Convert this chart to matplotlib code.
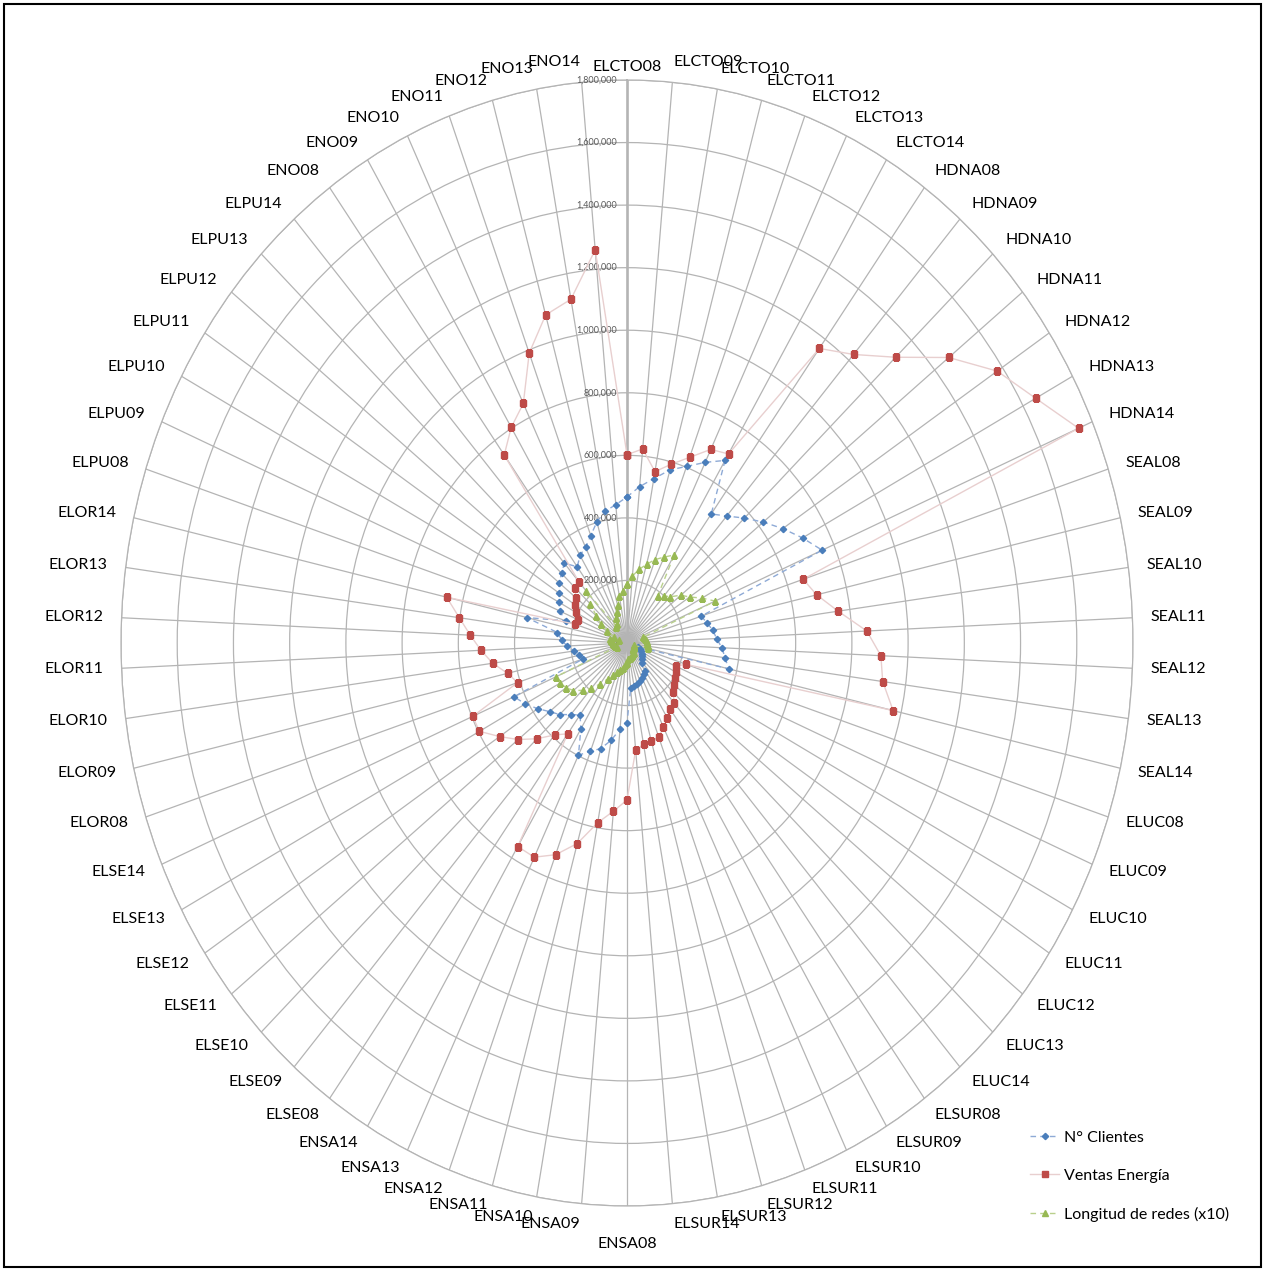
import numpy as np
import matplotlib.pyplot as plt
from matplotlib.patches import Rectangle

plt.rcParams['font.family'] = ['Lato', 'DejaVu Sans']

# Empresas y años (orden horario desde arriba)
empresas = ['ELCTO', 'HDNA', 'SEAL', 'ELUC', 'ELSUR', 'ENSA', 'ELSE', 'ELOR', 'ELPU', 'ENO']
anios = ['08', '09', '10', '11', '12', '13', '14']
categorias = [e + a for e in empresas for a in anios]

# N° de clientes
clientes = [
    467000, 502000, 534000, 574000, 603000, 641000, 680000,   # ELCTO
    510000, 539000, 578000, 620000, 664000, 709000, 755000,   # HDNA
    278000, 291000, 308000, 319000, 338000, 352000, 371000,   # SEAL
    42000, 49000, 56000, 63000, 69000, 76000, 83000,          # ELUC
    111000, 117000, 123000, 129000, 135000, 140000, 146000,   # ELSUR
    255000, 277000, 316000, 350000, 370000, 398000, 320000,   # ENSA
    284000, 304000, 331000, 352000, 381000, 411000, 437000,   # ELSE
    163000, 174000, 189000, 214000, 233000, 250000, 366000,   # ELOR
    230000, 260000, 275000, 290000, 309000, 322000, 339000,   # ELPU
    301000, 326000, 340000, 367000, 402000, 429000, 444000,   # ENO
]

# Ventas de energía
ventas = [
    602000, 623000, 557000, 593000, 634000, 687000, 704000,
    1164000, 1225000, 1322000, 1464000, 1578000, 1651000, 1747000,
    659000, 692000, 758000, 854000, 904000, 918000, 971000,
    220000, 189000, 197000, 205000, 214000, 228000, 255000,
    259000, 279000, 299000, 320000, 326000, 329000, 344000,
    502000, 540000, 584000, 665000, 723000, 760000, 758000,
    359000, 390000, 443000, 495000, 543000, 596000, 597000,
    409000, 436000, 482000, 520000, 558000, 602000, 658000,
    194000, 191000, 208000, 220000, 233000, 254000, 260000,
    743000, 803000, 850000, 990000, 1088000, 1117000, 1262000,
]

# Longitud de redes (x10)
redes = [
    189000, 215000, 239000, 261000, 285000, 305000, 328000,
    185000, 200000, 214000, 245000, 267000, 303000, 341000,
    61000, 64000, 67000, 70000, 72000, 75000, 78000,
    25000, 26000, 27000, 28000, 29000, 30000, 31000,
    40000, 42000, 44000, 46000, 48000, 50000, 52000,
    64000, 70000, 80000, 90000, 99000, 115000, 134000,
    161000, 193000, 219000, 244000, 259000, 271000, 276000,
    38000, 42000, 46000, 50000, 54000, 58000, 62000,
    30000, 50000, 80000, 110000, 140000, 180000, 219000,
    65000, 72000, 88000, 105000, 125000, 152000, 168000,
]

rticks = np.arange(0, 1800001, 200000)
rmax = 1800000

n = len(categorias)
theta = np.arange(n) * 2 * np.pi / n

fig = plt.figure(figsize=(12.65, 12.71), dpi=100)
W, H = 1265, 1271
cx, cy, rx, ry = 627, 643, 506, 563
ax = fig.add_axes([(cx - rx) / W, (H - cy - ry) / H, 2 * rx / W, 2 * ry / H],
                  projection='polar')
ax.set_aspect('auto')
ax.set_theta_zero_location('N')
ax.set_theta_direction(-1)
ax.set_ylim(0, rmax)

grid_col = '#b4b4b4'
ax.set_xticks(theta)
ax.set_xticklabels([])
ax.set_yticks(rticks[1:])
ax.set_yticklabels([])
ax.xaxis.grid(True, color=grid_col, lw=0.9)
ax.yaxis.grid(True, color=grid_col, lw=0.9)
ax.spines['polar'].set_color(grid_col)
ax.spines['polar'].set_linewidth(0.9)
ax.tick_params(length=0)
ax.axvline(0, color='#bdbdbd', lw=2.0, zorder=1)

# etiquetas del eje de valores
for r in rticks:
    ax.annotate(f'{r:,}', xy=(0, r), xytext=(-7, 0), textcoords='offset points',
                ha='right', va='center', fontsize=6.5, color='#595959')

# etiquetas de categorías (desplazadas hacia fuera del anillo exterior)
for i, (t, lab) in enumerate(zip(theta, categorias)):
    s, c = np.sin(t), np.cos(t)
    if i == 0:
        ha, dy = 'center', 13
    elif i == n // 2:
        ha, dy = 'center', -38
    else:
        ha = 'left' if s > 0 else 'right'
        dy = 20 * c
    ax.annotate(lab, xy=(t, rmax), xytext=(18 * s * 0.72, dy * 0.72),
                textcoords='offset points', ha=ha, va='center',
                fontsize=11.5, color='black', annotation_clip=False)

def cerrar(v):
    return np.append(theta, theta[0]), np.append(v, v[0])

tt, vv = cerrar(clientes)
ax.plot(tt, vv, color='#8eaad6', lw=1.0, ls=(0, (4, 3)), marker='D', ms=3.2,
        mfc='#4a7ebb', mec='#4a7ebb', label='N° Clientes', zorder=4)
tt, vv = cerrar(ventas)
ax.plot(tt, vv, color='#e8cfcf', lw=1.0, marker='s', ms=5,
        mfc='#be4b48', mec='#be4b48', label='Ventas Energía', zorder=4)
tt, vv = cerrar(redes)
ax.plot(tt, vv, color='#b9d08c', lw=1.0, ls=(0, (4, 3)), marker='^', ms=4,
        mfc='#98b954', mec='#98b954', label='Longitud de redes (x10)', zorder=4)

fig.legend(loc='upper left', bbox_to_anchor=(1016 / W, (H - 1116) / H), frameon=False,
           fontsize=11.5, handlelength=1.8, labelspacing=1.5, handletextpad=0.3)

fig.patches.append(Rectangle((4 / W, 4 / H), (W - 8) / W, (H - 8) / H, transform=fig.transFigure,
                             fill=False, ec='black', lw=1.5))

fig.savefig('out.png', dpi=100)
